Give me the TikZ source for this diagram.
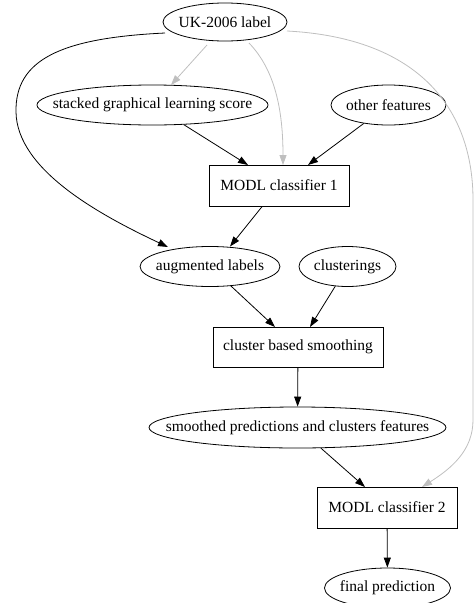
\documentclass[tikz,border=0pt]{standalone}
\usepackage{fontspec}
\setmainfont{Liberation Serif}
\usetikzlibrary{shapes.geometric,arrows.meta}
\tikzset{
  every node/.style={font=\fontsize{15.5}{18}\selectfont, inner sep=0pt},
  ell/.style={draw, ellipse, line width=0.8pt},
  boxn/.style={draw, rectangle, line width=0.8pt},
  edge/.style={line width=0.8pt, -{Triangle[length=10pt,width=7pt]}},
  gedge/.style={edge, draw=gray!50, -{Triangle[length=10pt,width=7pt,fill=gray!50]}},
}
\newcommand{\zb}[1]{\makebox[0pt]{#1}}
\begin{document}
\begin{tikzpicture}[x=1pt,y=-1pt]
\useasboundingbox (0,0) rectangle (474,603);
\node[ell, minimum width=124pt, minimum height=38pt] (uk) at (225,22) {\zb{UK-2006 label}};
\node[ell, minimum width=231pt, minimum height=40pt] (sgl) at (152.5,105) {\zb{stacked graphical learning score}};
\node[ell, minimum width=115pt, minimum height=40pt] (of) at (388.5,105) {\zb{other features}};
\node[boxn, minimum width=140pt, minimum height=41pt] (m1) at (279,185.5) {MODL classifier 1};
\node[ell, minimum width=140pt, minimum height=40pt] (aug) at (210,266.5) {\zb{augmented labels}};
\node[ell, minimum width=97pt, minimum height=40pt] (cl) at (347.5,266.5) {\zb{clusterings}};
\node[boxn, minimum width=170pt, minimum height=40pt] (cbs) at (298,347) {cluster based smoothing};
\node[ell, minimum width=297pt, minimum height=41pt] (sp) at (297.5,427.5) {\zb{smoothed predictions and clusters features}};
\node[boxn, minimum width=140pt, minimum height=41pt] (m2) at (387,507.5) {MODL classifier 2};
\node[ell, minimum width=126pt, minimum height=40pt] (fp) at (387.5,588) {\zb{final prediction}};

\coordinate (ukL) at (165,33);
\coordinate (ukR) at (287,31);
\coordinate (ukB1) at (207,45);
\coordinate (ukB2) at (249,43);
\coordinate (sglT) at (171,85);
\coordinate (m1T) at (283,165);
\coordinate (augT) at (168,247);
\coordinate (m2T) at (422,487);

\draw[gedge] (ukB1) -- (sglT);
\draw[gedge] (ukB2) .. controls (275,70) and (283,110) .. (m1T);
\draw[edge] (ukL) .. controls (60,38) and (15,60) .. (16,112) .. controls (17,170) and (100,215) .. (augT);
\draw[gedge] (ukR) .. controls (420,38) and (473,110) .. (473,200) -- (473,420) .. controls (473,450) and (452,468) .. (m2T);

\draw[edge] (sgl) -- (248,165);
\draw[edge] (of) -- (308,165);
\draw[edge] (m1) -- (230,246.5);
\draw[edge] (aug) -- (275,327);
\draw[edge] (cl) -- (310,327);
\draw[edge] (cbs) -- (sp);
\draw[edge] (sp) -- (365,487);
\draw[edge] (m2) -- (fp);
\end{tikzpicture}
\end{document}
